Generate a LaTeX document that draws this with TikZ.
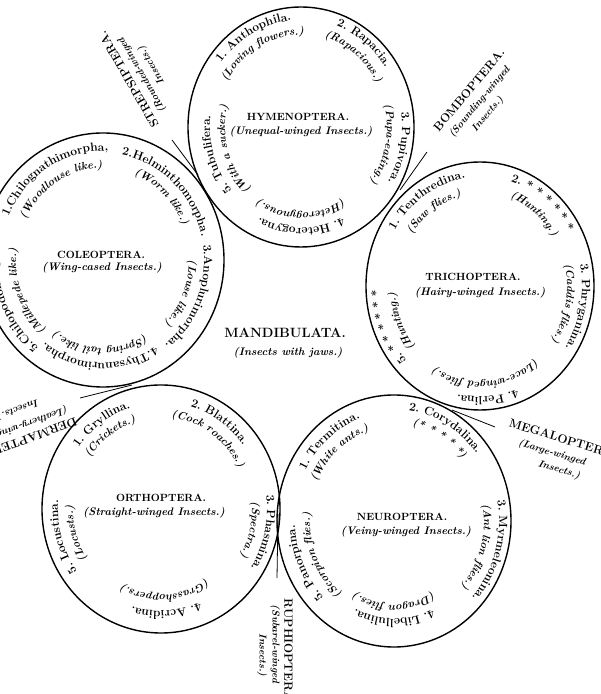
\documentclass[tikz,border=0pt]{standalone}
\usetikzlibrary{decorations.text,shapes.geometric}
\newcommand\nmfont{\fontsize{12}{13}\selectfont\bfseries}
\newcommand\ptfont{\fontsize{11}{12}\selectfont\bfseries\itshape}
% #1 cx, #2 cy, #3 rx, #4 ry, #5 centre angle, #6 inset, #7 text
\newcommand\arclab[7]{%
  \pgfmathsetmacro\lbSA{#5+80}%
  \pgfmathsetmacro\lbEA{#5-80}%
  \pgfmathsetmacro\lbRX{#3-#6}%
  \pgfmathsetmacro\lbRY{#4-#6}%
  \pgfmathsetmacro\lbSX{#1+\lbRX*cos(\lbSA)}%
  \pgfmathsetmacro\lbSY{#2+\lbRY*sin(\lbSA)}%
  \path[decorate,decoration={text along path,text align=center,text={#7}}]
    (\lbSX,\lbSY) arc[start angle=\lbSA,end angle=\lbEA,x radius=\lbRX,y radius=\lbRY];}
\newcommand\twolab[9]{%
  \arclab{#1}{#2}{#3}{#4}{#5}{#6}{|\nmfont|#8}%
  \arclab{#1}{#2}{#3}{#4}{#5}{#7}{|\ptfont|#9}}
\newcommand\Hl{\twolab{301}{567}{113}{120}}
\newcommand\Tl{\twolab{480}{408}{114}{124}}
\newcommand\Cl{\twolab{103}{434}{121}{127}}
\newcommand\Ol{\twolab{161}{185}{119}{124}}
\newcommand\Nl{\twolab{394}{173}{117}{126}}
\begin{document}
\begin{tikzpicture}[x=1bp,y=1bp,
  circ/.style={ellipse,draw,line width=1.4pt,inner sep=0pt},
  tline/.style={line width=0.8pt},
  ttl/.style={font=\fontsize{10.5}{13}\selectfont\bfseries,inner sep=0pt},
  sub/.style={font=\fontsize{11}{13}\selectfont\bfseries\itshape,inner sep=0pt},
  grp/.style={font=\fontsize{12}{14}\selectfont\bfseries,inner sep=0pt},
  grps/.style={font=\fontsize{10}{12}\selectfont\bfseries\itshape,inner sep=0pt}]
\useasboundingbox (0,0) rectangle (601,694);
\clip (0,0) rectangle (601,694);
% circles
\node[circ,minimum width=226bp,minimum height=240bp] (H) at (301,567) {};
\node[circ,minimum width=228bp,minimum height=248bp] (T) at (480,408) {};
\node[circ,minimum width=242bp,minimum height=254bp] (C) at (103,434) {};
\node[circ,minimum width=238bp,minimum height=248bp] (O) at (161,185) {};
\node[circ,minimum width=234bp,minimum height=252bp] (N) at (394,173) {};
% osculant lines
\coordinate (hc1) at (172,554); \coordinate (hc2) at (198,519);
\coordinate (ht1) at (427,542); \coordinate (ht2) at (400,504);
\coordinate (tn1) at (452,284); \coordinate (tn2) at (495,267);
\coordinate (co1) at (80,296);  \coordinate (co2) at (132,309);
\coordinate (on1) at (278,180); \coordinate (on2) at (277,116);
\draw[tline] (hc1) -- (hc2);
\draw[tline] (ht1) -- (ht2);
\draw[tline] (tn1) -- (tn2);
\draw[tline] (co1) -- (co2);
\draw[tline] (on1) -- (on2);
% centre titles
\node[ttl] (Ht) at (298,577) {HYMENOPTERA.};
\node[sub] (Hs) at (301,562) {(Unequal-winged Insects.)};
\node[ttl] (Tt) at (473,417) {TRICHOPTERA.};
\node[sub] (Ts) at (480,401) {(Hairy-winged Insects.)};
\node[ttl] (Ct) at (101,439) {COLEOPTERA.};
\node[sub] (Cs) at (102,426) {(Wing-cased Insects.)};
\node[ttl] (Ot) at (161,196) {ORTHOPTERA.};
\node[sub] (Os) at (154,181) {(Straight-winged Insects.)};
\node[ttl] (Nt) at (402,177) {NEUROPTERA.};
\node[sub] (Ns) at (406,162) {(Veiny-winged Insects.)};
\node[font=\fontsize{13.5}{15}\selectfont\bfseries,inner sep=0pt] (Mt) at (285,361) {MANDIBULATA.};
\node[font=\fontsize{11}{13}\selectfont\bfseries\itshape,inner sep=0pt] (Ms) at (288,341) {(Insects with jaws.)};
% osculant group labels
\node[grp,rotate=120] (S1) at (128.5,614.5) {STREPSIPTERA.};
\node[grps,rotate=120] (S2) at (142.2,618.8) {(Rounded-winged};
\node[grps,rotate=120] (S3) at (151.5,628.8) {Insects.)};
\node[grp,rotate=50] (B1) at (469,604) {BOMBOPTERA.};
\node[grps,rotate=50] (B2) at (479.7,591.9) {(Sounding-winged};
\node[grps,rotate=50] (B3) at (487.8,579.7) {Insects.)};
\node[grp,rotate=200] (D1) at (28,255) {DERMAPTERA.};
\node[grps,rotate=200] (D2) at (27.5,270.3) {(Leathery-winged};
\node[grps,rotate=200] (D3) at (18,285) {Insects.)};
\node[grp,rotate=-17] (G1) at (563,255) {MEGALOPTERA.};
\node[grps,rotate=-17] (G2) at (552,241) {(Large-winged};
\node[grps,rotate=-17] (G3) at (559,224) {Insects.)};
\node[grp,rotate=-90] (R1) at (288.5,42) {RUPHIOPTERA.};
\node[grps,rotate=-90] (R2) at (275,50) {(Subarel-winged};
\node[grps,rotate=-90] (R3) at (262,39) {Insects.)};
% labels round the circles
\Hl{118}{13}{28}{1. Anthophila.}{(Loving flowers.)}
\Hl{53}{12}{27}{2. Rapacia.}{(Rapacious.)}
\Hl{-12}{12}{27}{3. Pupivora.}{(Pupa-eating.)}
\Hl{-90}{19}{34}{4. Heterogyna.}{(Heterogynous.)}
\Hl{198}{22}{37}{5. Tubulifera.}{(With a sucker.)}
\Tl{122}{15}{32}{1. Tenthredina.}{(Saw flies.)}
\Tl{53}{14}{29}{2. * * * * * *}{(Hunting.)}
\Tl{-12}{12}{27}{3. Phryganina.}{(Caddis flies.)}
\Tl{-86}{13}{28}{4. Perlina.}{(Lace-winged flies.)}
\Tl{204}{14}{29}{5. * * * * * *}{(Hunting.)}
\Cl{121}{18}{35}{1.Chilognathimorpha,}{(Woodlouse like.)}
\Cl{47}{20}{35}{2.Helminthomorpha.}{(Worm like.)}
\Cl{-23}{20}{35}{3.Anoplurimorpha.}{(Louse like.)}
\Cl{-92}{24}{39}{4.Thysanurimorpha.}{(Spring tail like.)}
\Cl{202}{16}{34}{5.Chilopodomorpha.}{(Millepede like.)}
\Ol{125}{18}{33}{1. Gryllina.}{(Crickets.)}
\Ol{56}{17}{32}{2. Blattina.}{(Cock roaches.)}
\Ol{-13}{13}{28}{3. Phasmina.}{(Spectra.)}
\Ol{-87}{22}{38}{4. Acridina.}{(Grasshoppers.)}
\Ol{196}{16}{31}{5. Locustina.}{(Locusts.)}
\Nl{129}{17}{32}{1. Termitina.}{(White ants.)}
\Nl{61}{14}{29}{2. Corydalina.}{(* * * * *)}
\Nl{-17}{12}{27}{3. Myrmeleonina.}{(Ant lion flies.)}
\Nl{-90}{28}{42}{4. Libellulina.}{(Dragon flies.)}
\Nl{205}{18}{33}{5. Panorpina.}{(Scorpion flies.)}
\end{tikzpicture}
\end{document}
